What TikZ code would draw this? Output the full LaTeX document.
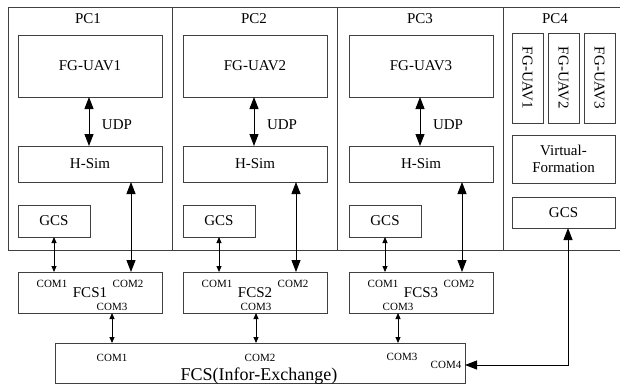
\documentclass[tikz,border=0pt]{standalone}
\usepackage{fontspec}
\setmainfont{Liberation Serif}
\usetikzlibrary{arrows.meta}
\tikzset{
  frame/.style={draw=black!75, line width=0.9pt},
  bx/.style={draw=black!75, line width=0.9pt, inner sep=0pt, outer sep=0pt, align=center, font=\fontsize{15}{17}\selectfont},
  lbl/.style={inner sep=0pt, font=\fontsize{15}{17}\selectfont},
  com/.style={inner sep=0pt, font=\fontsize{11}{12}\selectfont},
  bigarr/.style={{Triangle[width=9pt,length=12pt]}-{Triangle[width=9pt,length=12pt]}, line width=1pt},
  smallarr/.style={{Triangle[width=5pt,length=6pt]}-{Triangle[width=5pt,length=6pt]}, line width=0.9pt},
}
\begin{document}
\begin{tikzpicture}[x=1pt,y=-1pt]
\useasboundingbox[fill=white] (0,0) rectangle (620,385);
% outer frame and dividers
\draw[frame] (620,7) -- (8,7) -- (8,250) -- (620,250);
\foreach \d in {172,337,503} \draw[frame] (\d,7) -- (\d,250);
% PC labels
\node[lbl] (pc1) at (88,19) {PC1};
\node[lbl] (pc2) at (254,19) {PC2};
\node[lbl] (pc3) at (420,19) {PC3};
\node[lbl] (pc4) at (555,19) {PC4};
% PC1..PC3 columns
\foreach \i/\l in {1/18,2/183,3/349}{
  \node[bx, minimum width=144pt, minimum height=62pt] (fg\i) at (\l+72,66) {FG-UAV\i};
  \node[bx, minimum width=144pt, minimum height=36pt] (hs\i) at (\l+72,164) {H-Sim};
  \node[bx, minimum width=72pt, minimum height=32pt] (gcs\i) at (\l+36,221) {GCS};
  \node[bx, minimum width=144pt, minimum height=41pt] (fcs\i) at (\l+72,292.5) {};
  \node[lbl] (fcsl\i) at (\l+72,293) {FCS\i};
  \node[com] (c1\i) at (\l+34,284) {COM1};
  \node[com] (c2\i) at (\l+110,284) {COM2};
  \node[lbl] (udp\i) at (\l+99,125) {UDP};
  \draw[bigarr] ([xshift=-1pt]fg\i.south) -- ([xshift=-1pt]hs\i.north);
  \draw[bigarr] ([xshift=41pt]hs\i.south) -- ([xshift=41pt]fcs\i.north);
  \draw[smallarr] (gcs\i.south) -- (gcs\i.south |- fcs\i.north);
}
\node[com] (c31) at (112,307) {COM3};
\node[com] (c32) at (256,307) {COM3};
\node[com] (c33) at (398,307) {COM3};
% bottom box
\node[bx, minimum width=410pt, minimum height=40pt] (bot) at (260,363) {};
\node[inner sep=0pt, anchor=base, font=\fontsize{18}{20}\selectfont] (botl) at (259,380) {FCS(Infor-Exchange)};
\node[com] (b1) at (112,358) {COM1};
\node[com] (b2) at (260,358) {COM2};
\node[com] (b3) at (402,357) {COM3};
\node[com] (b4) at (446,365) {COM4};
\draw[smallarr] (fcs1.south -| c31) -- (bot.north -| c31);
\draw[smallarr] (fcs2.south -| c32) -- (bot.north -| c32);
\draw[smallarr] (fcs3.south -| c33) -- (bot.north -| c33);
% PC4
\node[bx, rotate=-90, minimum width=90pt, minimum height=31pt] (u1) at (527.5,78) {FG-UAV1};
\node[bx, rotate=-90, minimum width=90pt, minimum height=31pt] (u2) at (563.5,78) {FG-UAV2};
\node[bx, rotate=-90, minimum width=90pt, minimum height=31pt] (u3) at (599.5,78) {FG-UAV3};
\node[bx, minimum width=103pt, minimum height=48pt] (vf) at (563.5,159) {Virtual-\\Formation};
\node[bx, minimum width=103pt, minimum height=31pt] (g4) at (563.5,212.5) {GCS};
\coordinate (k) at (568,365);
\draw[bigarr] (bot.east |- k) -- (k) -- (k |- g4.south);
\end{tikzpicture}
\end{document}
